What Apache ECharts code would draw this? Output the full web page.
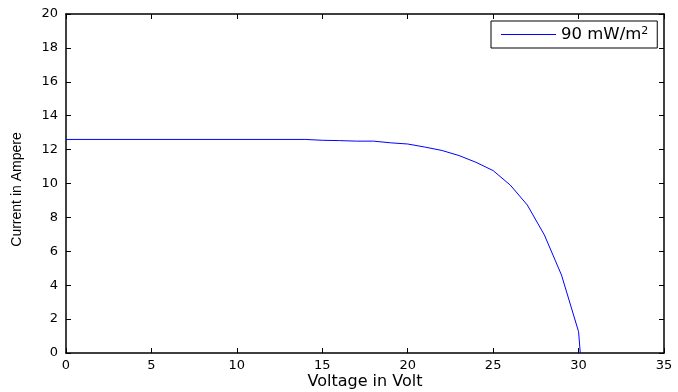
<!DOCTYPE html>
<html>
<head>
<meta charset="utf-8">
<script src="https://cdn.jsdelivr.net/npm/echarts@6/dist/echarts.min.js"></script>
<style>
  html, body { margin: 0; padding: 0; background: #fff; }
  #chart { width: 678px; height: 392px; }
</style>
</head>
<body>
<div id="chart"></div>
<script>
// I-V curve
const voltage = [0, 14, 15, 16, 17, 18, 19, 20, 21, 22, 23, 24, 25, 26, 27, 28, 29, 30, 30.1];
const current = [12.6, 12.6, 12.55, 12.53, 12.5, 12.5, 12.4, 12.33, 12.15, 11.95, 11.65, 11.25, 10.76, 9.91, 8.73, 6.96, 4.6, 1.26, 0];
const seriesName = '90 mW/m2';

// the picture is a bit wide, so the wider DejaVu face fits it better
const font = '"DejaVu Sans", sans-serif';
const narrow = '"Liberation Sans", Arial, sans-serif';
const chart = echarts.init(document.getElementById('chart'));

const boxAxis = {
  axisLine: { show: true, onZero: false, lineStyle: { color: '#000', width: 1.5 } },
  axisTick: { show: true, inside: true, length: 5, lineStyle: { color: '#000' } },
  splitLine: { show: false },
};

chart.setOption({
  animation: false,
  textStyle: { fontFamily: font },
  grid: { left: 66, right: 14, top: 14, bottom: 39, containLabel: false, outerBoundsMode: 'none' },
  legend: {
    left: 491,
    top: 21,
    orient: 'horizontal',
    backgroundColor: '#fff',
    borderColor: '#000',
    borderWidth: 1,
    borderRadius: 0,
    padding: [5, 9, 5, 10],
    icon: 'rect',
    itemWidth: 55,
    itemHeight: 1,
    formatter: () => '{a|90 mW/m}{s|2}',
    textStyle: {
      rich: {
        a: { fontSize: 16.5, color: '#000', fontFamily: font, lineHeight: 17 },
        s: { fontSize: 11, color: '#000', fontFamily: font, verticalAlign: 'top', lineHeight: 10 },
      },
    },
    data: [seriesName],
  },
  xAxis: [
    Object.assign({
      type: 'value', min: 0, max: 35, interval: 5,
      name: 'Voltage in Volt', nameLocation: 'middle', nameGap: 21, nameMoveOverlap: false,
      nameTextStyle: { fontSize: 16, color: '#000', fontFamily: font },
      axisLabel: { fontSize: 13, color: '#000', margin: 6, fontFamily: font },
    }, boxAxis),
    Object.assign({
      type: 'value', min: 0, max: 35, interval: 5, position: 'top',
      axisLabel: { show: false },
    }, boxAxis),
  ],
  yAxis: [
    Object.assign({
      type: 'value', min: 0, max: 20, interval: 2,
      name: 'Current in Ampere', nameLocation: 'middle', nameGap: 42, nameMoveOverlap: false,
      nameTextStyle: { fontSize: 14, color: '#000', fontFamily: narrow, padding: [0, 12, 0, 0] },
      axisLabel: { fontSize: 13, color: '#000', margin: 8, fontFamily: font },
    }, boxAxis),
    Object.assign({
      type: 'value', min: 0, max: 20, interval: 2, position: 'right',
      axisLabel: { show: false },
    }, boxAxis),
  ],
  series: [{
    name: seriesName,
    type: 'line',
    symbol: 'none',
    lineStyle: { color: '#0000ff', width: 1 },
    itemStyle: { color: '#0000ff' },
    data: voltage.map((v, i) => [v, current[i]]),
  }],
});
</script>
</body>
</html>
